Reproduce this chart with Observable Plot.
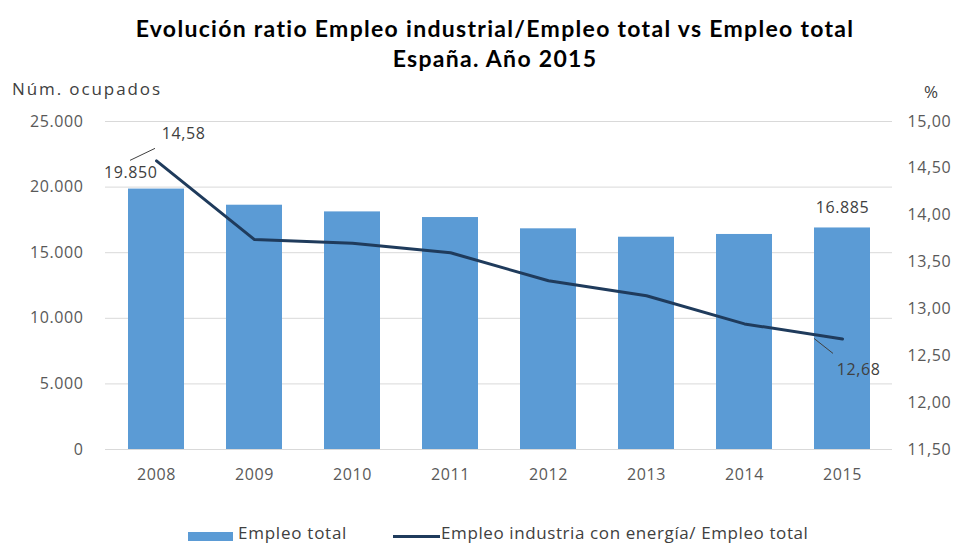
<!DOCTYPE html>
<html><head><meta charset="utf-8">
<script src="https://cdn.jsdelivr.net/npm/d3@7"></script>
<script src="https://cdn.jsdelivr.net/npm/@observablehq/plot@0.6"></script>
<style>
body{margin:0;background:#fff;font-family:"Open Sans",sans-serif;}
#wrap{position:relative;width:960px;height:545px;overflow:hidden;background:#fff;}
#title{position:absolute;left:30px;width:930px;top:13px;text-align:center;font-family:Lato,sans-serif;font-weight:bold;font-size:23px;line-height:30px;color:#000;letter-spacing:1.3px;}
#ylab{position:absolute;left:12px;top:77px;font-size:17px;color:#404040;white-space:nowrap;letter-spacing:1.9px;}
#pct{position:absolute;left:924px;top:80px;font-size:17px;color:#404040;}
#chart{position:absolute;left:0;top:75px;}
#legend{position:absolute;left:0;top:521px;width:960px;height:24px;font-size:17px;color:#404040;white-space:nowrap;}
.sw{position:absolute;top:0;line-height:24px;}
.box{position:absolute;width:45px;height:9px;background:#5b9bd5;top:11px;}
.ln{position:absolute;width:47px;height:3px;background:#1f3b5c;top:14px;}
</style></head>
<body><div id="wrap">
<div id="title">Evolución ratio Empleo industrial/Empleo total vs Empleo total<br>España. Año 2015</div>
<div id="ylab">Núm. ocupados</div>
<div id="pct">%</div>
<div id="chart"></div>
<div id="legend">
 <div class="box" style="left:188px"></div><div class="sw" style="left:238px;letter-spacing:0.75px">Empleo total</div>
 <div class="ln" style="left:393px"></div><div class="sw" style="left:441px;letter-spacing:0.6px">Empleo industria con energía/ Empleo total</div>
</div>
</div>
<script>
const years = ["2008","2009","2010","2011","2012","2013","2014","2015"];
const empleoTotal = [19850, 18620, 18110, 17680, 16820, 16180, 16390, 16885];
const ratio = [14.58, 13.74, 13.70, 13.60, 13.30, 13.14, 12.84, 12.68];
const leftTicks = [0, 5000, 10000, 15000, 20000, 25000];
const rightTicks = [11.5, 12, 12.5, 13, 13.5, 14, 14.5, 15];

const P0 = 11.5, P1 = 15, L1 = 25000;
const toLeft = p => (p - P0) / (P1 - P0) * L1;
const fromLeft = v => P0 + v / L1 * (P1 - P0);
const fmtThousands = v => d3.format(",")(v).replace(/,/g, ".");
const fmtPct = v => v.toFixed(2).replace(".", ",");

const data = years.map((y, i) => ({year: y, total: empleoTotal[i], ratio: ratio[i], r: toLeft(ratio[i])}));
const leaders = [
  {...data[0], a: [2, 0], b: [27, -12]},
  {...data[7], a: [0, 0], b: [19, 15]}
];

const leaderRender = (index, scales, values) => {
  const g = d3.create("svg:g").attr("stroke", "#404040").attr("stroke-width", 1).attr("fill", "none");
  for (const i of index) {
    const x = values.x[i], y = values.y[i], L = leaders[i];
    g.append("line").attr("x1", x + L.a[0]).attr("y1", y + L.a[1]).attr("x2", x + L.b[0]).attr("y2", y + L.b[1]);
  }
  return g.node();
};

const chart = Plot.plot({
  width: 960, height: 425,
  marginTop: 46, marginBottom: 51, marginLeft: 105, marginRight: 68,
  style: {fontFamily: "'Open Sans', sans-serif", fontSize: "16px", color: "#595959", background: "transparent", letterSpacing: "0.6px"},
  x: {domain: years, paddingInner: 0.43, paddingOuter: 0.2, label: null, axis: null},
  y: {domain: [0, 25000], label: null, axis: null},
  marks: [
    Plot.gridY(leftTicks, {stroke: "#d9d9d9", strokeOpacity: 1, strokeWidth: 1}),
    Plot.barY(data, {x: "year", y: "total", fill: "#5b9bd5"}),
    Plot.line(data, {x: "year", y: "r", stroke: "#1f3b5c", strokeWidth: 3}),
    Plot.axisX({tickSize: 0, tickPadding: 19, label: null}),
    Plot.axisY(leftTicks, {anchor: "left", tickSize: 0, tickPadding: 22, tickFormat: fmtThousands, label: null}),
    Plot.axisY(rightTicks.map(toLeft), {anchor: "right", tickSize: 0, tickPadding: 15, tickFormat: d => fmtPct(fromLeft(d)), label: null}),
    Plot.text([data[0]], {x: "year", y: "total", text: d => fmtThousands(d.total), textAnchor: "end", dx: 1, dy: -16, fill: "#404040"}),
    Plot.text([data[7]], {x: "year", y: "total", text: d => fmtThousands(d.total), dy: -20, fill: "#404040"}),
    Plot.text([data[0]], {x: "year", y: "r", text: d => fmtPct(d.ratio), dx: 27, dy: -27, fill: "#404040"}),
    Plot.text([data[7]], {x: "year", y: "r", text: d => fmtPct(d.ratio), dx: 16, dy: 31, fill: "#404040"}),
    Plot.dot(leaders, {x: "year", y: "r", render: leaderRender})
  ]
});
document.getElementById("chart").appendChild(chart);
</script>
</body></html>
